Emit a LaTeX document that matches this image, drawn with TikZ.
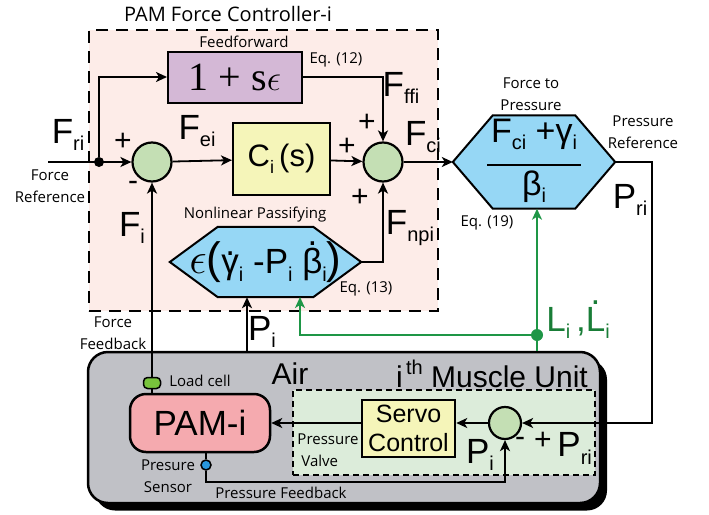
\documentclass[tikz,border=0pt]{standalone}
\usepackage{fix-cm}
\usepackage{amsmath}
\usepackage{fontspec}
\setmainfont{Liberation Sans}
\newfontfamily\lblfont{Open Sans}
\newfontfamily\serf{Liberation Serif}
\usetikzlibrary{arrows.meta,positioning,calc}
\definecolor{ctrlpink}{RGB}{253,236,232}
\definecolor{ffpurple}{RGB}{212,184,214}
\definecolor{blkyellow}{RGB}{245,245,185}
\definecolor{sumgreen}{RGB}{196,223,180}
\definecolor{hexblue}{RGB}{150,215,245}
\definecolor{musgray}{RGB}{192,193,198}
\definecolor{valvegreen}{RGB}{220,236,218}
\definecolor{pampink}{RGB}{245,170,175}
\definecolor{cellgreen}{RGB}{120,195,60}
\definecolor{sensblue}{RGB}{40,150,220}
\definecolor{lenggreen}{RGB}{30,150,70}
\definecolor{lentext}{RGB}{25,125,55}
% subscript and dot helpers
\newcommand\sbs[2][20]{\raisebox{-0.22em}{\fontsize{#1}{#1}\selectfont #2}}
\newcommand\dotted[2][0.5em]{\ooalign{#2\cr\hidewidth\raisebox{#1}{.}\hidewidth\cr}}
% hexagon outline round a named box: #1 name, #2 tip length
\newcommand\hexpath[2]{(#1.west) -- ($(#1.north west)+(#2,0)$) -- ($(#1.north east)+(-#2,0)$)
  -- (#1.east) -- ($(#1.south east)+(-#2,0)$) -- ($(#1.south west)+(#2,0)$) -- cycle}

\begin{document}
\begin{tikzpicture}[x=1pt,y=-1pt,
  lbl/.style={font=\lblfont\fontsize{15}{22}\selectfont,inner sep=0pt,align=center},
  sym/.style={font=\fontsize{35}{35}\selectfont,inner sep=0pt},
  sgn/.style={font=\fontsize{30}{30}\selectfont,inner sep=0pt},
  blk/.style={draw,line width=2pt,inner sep=0pt,align=center},
  sumnode/.style={circle,draw,line width=2.2pt,fill=sumgreen,minimum size=39pt,inner sep=0pt},
  hexbox/.style={inner sep=0pt},
  hexdraw/.style={draw,line width=2pt,fill=hexblue},
  arr/.style={-{Stealth[length=11pt,width=10pt,inset=3pt]},line width=1.8pt},
  garr/.style={arr,draw=lenggreen},
]
\useasboundingbox (0,0) rectangle (709,514);

%% Backgrounds
\node[draw,dashed,dash pattern=on 12pt off 8pt,line width=1.6pt,fill=ctrlpink,
      minimum width=349pt,minimum height=281pt] (ctrl) at (263.5,170.5) {};
\node[lbl,font=\lblfont\fontsize{20}{22}\selectfont] (ctrltitle) at (228,14) {PAM Force Controller-i};
\node[fill=black,rounded corners=20pt,minimum width=512pt,minimum height=151pt] (mushade) at (351,435) {};
\node[draw,line width=2.5pt,rounded corners=20pt,fill=musgray,
      minimum width=512pt,minimum height=151pt] (mu) at (344,427.5) {};
\node[draw,dashed,dash pattern=on 6pt off 4pt,line width=1.2pt,fill=valvegreen,
      minimum width=302pt,minimum height=85pt] (valve) at (444,432.5) {};

%% Controller blocks
\node[blk,fill=ffpurple,minimum width=134pt,minimum height=51pt,
      font=\fontsize{36}{36}\selectfont] (ff) at (235,77) {{\serf\fontsize{40}{40}\selectfont 1 + s}$\epsilon$};
\node[sumnode] (s1) at (152,162) {};
\node[blk,fill=blkyellow,minimum width=97pt,minimum height=72pt,
      font=\fontsize{31}{31}\selectfont] (ci) at (281.5,159) {C\sbs[18]{i}\,(s)};
\node[sumnode] (s2) at (383,162) {};
\node[hexbox,minimum width=162pt,minimum height=93pt] (ftp) at (534,162) {};
\draw[hexdraw] \hexpath{ftp}{40};
\node[font=\fontsize{34}{34}\selectfont,inner sep=0pt] (ftptxt) at (ftp)
  {\begin{tabular}{@{}c@{}}F\sbs{ci} +γ\sbs{i}\\[-10pt]\rule{94pt}{2.2pt}\\[-6pt]β\sbs{i}\end{tabular}};
\node[hexbox,minimum width=191pt,minimum height=70pt] (np) at (265.5,262) {};
\draw[hexdraw] \hexpath{np}{48};
\node[font=\fontsize{35}{35}\selectfont,inner sep=0pt] (nptxt) at (np)
  {{\fontsize{44}{44}\selectfont$\epsilon$(}\dotted{γ}\sbs{i} -P\sbs{i} \dotted[0.8em]{β}\sbs{i}{\fontsize{44}{44}\selectfont)}};

%% Muscle unit blocks
\node[blk,rounded corners=16pt,line width=2.5pt,fill=pampink,minimum width=140pt,
      minimum height=58pt,font=\fontsize{35}{35}\selectfont] (pam) at (200,423) {PAM-i};
\node[blk,line width=2.5pt,fill=blkyellow,minimum width=93pt,minimum height=57pt,
      font=\fontsize{25}{29}\selectfont] (sv) at (408.5,428.5) {Servo\\Control};
\node[sumnode,minimum size=32pt] (s3) at (505,423) {};
\node[draw,line width=1.5pt,fill=cellgreen,rounded corners=4pt,minimum width=17pt,
      minimum height=11pt,inner sep=0pt] (lc) at (152,383) {};
\node[circle,draw,line width=1.5pt,fill=sensblue,minimum size=10pt,inner sep=0pt] (ps) at (206,465) {};
\node[circle,fill=black,minimum size=10pt,inner sep=0pt] (jn) at (99,162) {};
\node[circle,fill=lenggreen,minimum size=12pt,inner sep=0pt] (ld) at (537,335) {};

%% Free ends
\coordinate (fin) at (48,162);
\coordinate (pri) at (652,162);
\coordinate (prj) at (652,423);
\coordinate (pin) at (247,352);
\coordinate (lng) at (300,297);
\coordinate (fbk) at (505,482);

%% Connectors
\draw[arr] (fin) -- (s1);
\draw[arr] (jn) |- (ff);
\draw[arr] (s1) -- (ci);
\draw[arr] (ci) -- (s2);
\draw[arr] (ff) -| (s2);
\draw[arr] (np.east) -| (s2);
\draw[arr] (s2) -- (ftp.west);
\draw[arr] (ftp.east) -- (pri) -- (prj) -- (s3);
\draw[line width=1.8pt] (lc) -- (lc |- pam.north);
\draw[arr] (lc) -- (s1);
\draw[arr] (pin) -- (pin |- np.south);
\draw[garr] (ld) -- (ld |- ftp.south);
\draw[garr] (ld) -| (lng);
\draw[line width=1.8pt,draw=lenggreen] (ld) -- (ld |- mu.north);
\draw[arr] (s3) -- (sv.east |- s3.west);
\draw[arr] (sv.west |- pam.east) -- (pam.east);
\draw[line width=1.8pt] (ps) -- (ps |- pam.south);
\draw[arr] (ps) |- (fbk) -- (s3);

%% Controller labels
\node[lbl] (fflbl) at (244,42) {Feedforward};
\node[lbl] (eq12) at (336,60) {Eq. (12)};
\node[sym] (fri) at (68,135) {F\sbs{ri}};
\node[lbl] (fref) at (50,186) {Force\\Reference};
\node[sgn] (p1) at (123,142) {+};
\node[sgn] (m1) at (133,186) {-};
\node[sym] (fei) at (197,131) {F\sbs{ei}};
\node[sgn] (p2) at (347,147) {+};
\node[sgn] (p3) at (367,123) {+};
\node[sgn] (p4) at (360,198) {+};
\node[sym] (fffi) at (401,88) {F\sbs{ffi}};
\node[sym] (fci) at (423,137) {F\sbs{ci}};
\node[sym] (fnpi) at (410,228) {F\sbs{npi}};
\node[lbl] (ftplbl) at (531,94) {Force to\\Pressure};
\node[lbl] (preflbl) at (643,132) {Pressure\\Reference};
\node[lbl] (eq19) at (487,223) {Eq. (19)};
\node[sym] (prilbl) at (630,200) {P\sbs{ri}};
\node[sym] (filbl) at (132,228) {F\sbs{i}};
\node[lbl] (nplbl) at (255,215) {Nonlinear Passifying};
\node[lbl] (eq13) at (366,289) {Eq. (13)};
\node[lbl] (fbklbl) at (113,333) {Force\\Feedback};
\node[sym] (pilbl) at (262,332) {P\sbs{i}};
\node[sym,text=lentext] (lilbl) at (578,323) {L\sbs{i}\,,\dotted[0.75em]{L}\sbs{i}};

%% Muscle unit labels
\node[font=\fontsize{30}{30}\selectfont,inner sep=0pt] (airlbl) at (290,374) {Air};
\node[font=\fontsize{30}{30}\selectfont,inner sep=0pt] (mulbl) at (492,374)
  {i\raisebox{0.45em}{\fontsize{20}{20}\selectfont\,th} Muscle Unit};
\node[lbl] (lclbl) at (200,381) {Load cell};
\node[lbl] (pslbl) at (168,476) {Presure\\Sensor};
\node[lbl] (pfblbl) at (281,493) {Pressure Feedback};
\node[lbl,align=left] (pvlbl) at (328,450) {Pressure\\\ Valve};
\node[sgn] (m3) at (520,442) {-};
\node[sym] (pri3) at (563,448) {\raisebox{0.2em}{\fontsize{30}{30}\selectfont +}\,P\sbs{ri}};
\node[sym] (pi3) at (480,455) {P\sbs{i}};
\end{tikzpicture}
\end{document}
